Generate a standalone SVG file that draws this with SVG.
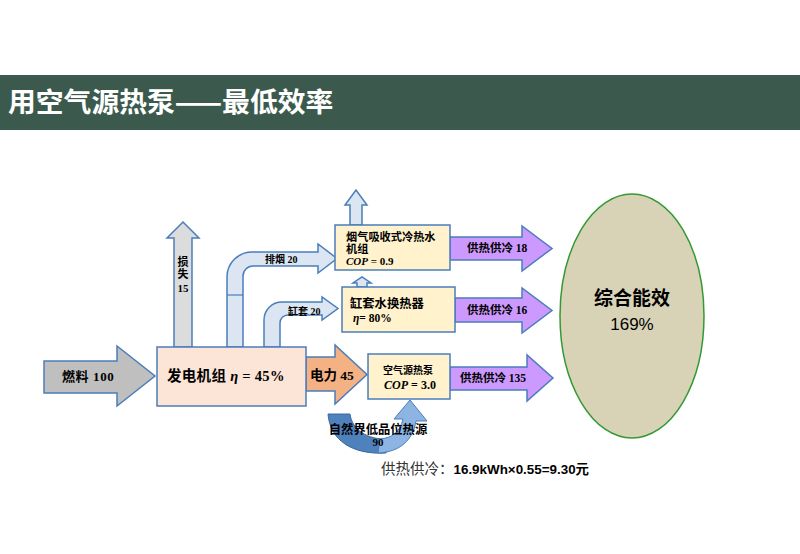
<svg xmlns="http://www.w3.org/2000/svg" width="800" height="554" viewBox="0 0 800 554">
<style>
.ar{stroke:#4A7EBB;stroke-width:1.5;stroke-linejoin:miter}
.gray{fill:#BFBFBF}
.lgray{fill:#DCDCDC}
.lb{fill:#DCE6F2}
.pu{fill:#CC99FF}
.or{fill:#F4B183}
.box{fill:#FFF2CC;stroke:#4A7EBB;stroke-width:1.5}
.t{font-family:"Liberation Serif","Noto Sans CJK SC",serif;font-weight:bold;fill:#000}
.s{font-family:"Liberation Sans","Noto Sans CJK SC",sans-serif}
</style>
<rect width="800" height="554" fill="#fff"/>
<rect x="0" y="75" width="800" height="55" fill="#3B5A4D"/>
<text x="8" y="112" font-family="'Noto Sans CJK SC',sans-serif" font-weight="bold" font-size="27.8" fill="#fff">用空气源热泵——最低效率</text>

<g id="connectors">
<path class="ar lgray" d="M174 347 L174 238 L167 238 L183 222 L199 238 L192 238 L192 347 Z"/>
<path class="ar lb" d="M227 347 L227 277 A25 25 0 0 1 252 252 L318 252 L318 244 L337 258.5 L318 273 L318 266 L253 266 A10 10 0 0 0 243 276 L243 347 Z"/>
<line x1="227" y1="295" x2="243" y2="295" stroke="#4A7EBB" stroke-width="1.2"/>
<path class="ar lb" d="M264 347 L264 320 A18 18 0 0 1 282 302 L322 302 L322 297 L338 308.5 L322 320 L322 315 L288 315 A8 8 0 0 0 280 323 L280 347 Z"/>
<path class="ar lb" d="M350 225 L350 205 L345 205 L356 190 L367 205 L362 205 L362 225 Z"/>
<path class="ar lb" d="M357 287 L357 283 L353 283 L362 277 L371 283 L367 283 L367 287 Z"/>
<path class="ar gray" d="M44 361 L117 361 L117 346 L155 376 L117 406 L117 393 L44 393 Z"/>
<path class="ar or" d="M306 357 L335 357 L335 345 L367 374.5 L335 404 L335 391 L306 391 Z"/>
<path class="ar pu" d="M450 237 L522 237 L522 226 L552 248.5 L522 271 L522 260 L450 260 Z"/>
<path class="ar pu" d="M455 298 L522 298 L522 288 L552 310.5 L522 333 L522 322 L455 322 Z"/>
<path class="ar pu" d="M450 367 L527 367 L527 355 L553 378 L527 401 L527 390 L450 390 Z"/>
<path d="M328 414 C330 440 352 455 386 453 L388 439 C368 440 352 430 350 414 Z" fill="#4F81BD" stroke="#3A6AA0" stroke-width="1"/>
<path d="M378 453 C400 452 413 440 416 421 L427 421 L410 400 L394 419 L403 419 C400 432 392 438 380 439 Z" fill="#8DB4E2" stroke="#4A7EBB" stroke-width="1"/>
</g>

<g id="loss">
<text class="t" x="183" y="266" font-size="11" text-anchor="middle">损</text>
<text class="t" x="183" y="278" font-size="11" text-anchor="middle">失</text>
<text class="t" x="183" y="292" font-size="11" text-anchor="middle">15</text>
</g>
<g id="flue"><text class="t" x="265" y="263" font-size="10">排烟 20</text></g>
<g id="jacket"><text class="t" x="288" y="315" font-size="10">缸套 20</text></g>
<g id="fuel"><text class="t" x="62" y="381" font-size="13" letter-spacing="0.6">燃料 100</text></g>

<g id="generator">
<rect x="157" y="347" width="149" height="59" fill="#FCE4D6" stroke="#4A7EBB" stroke-width="1.5"/>
<text class="t" x="167" y="381" font-size="14.5" letter-spacing="0.3">发电机组 <tspan font-style="italic">η</tspan> = 45%</text>
</g>
<g id="power"><text class="t" x="310" y="380" font-size="13.5">电力 45</text></g>

<g id="absorption">
<rect class="box" x="335" y="225" width="115" height="45"/>
<text class="t" x="346" y="241" font-size="11.2">烟气吸收式冷热水</text>
<text class="t" x="346" y="253" font-size="11.2">机组</text>
<text class="t" x="346" y="265" font-size="11"><tspan font-style="italic">COP</tspan> =  0.9</text>
</g>
<g id="exchanger">
<rect class="box" x="342" y="287" width="113" height="45"/>
<text class="t" x="350" y="308" font-size="12.3">缸套水换热器</text>
<text class="t" x="353" y="322" font-size="11.5"><tspan font-style="italic">η</tspan>=  80%</text>
</g>
<g id="heatpump">
<rect class="box" x="368" y="354" width="82" height="45"/>
<text class="t" x="408" y="374" font-size="10" text-anchor="middle">空气源热泵</text>
<text class="t" x="410" y="389" font-size="12" text-anchor="middle"><tspan font-style="italic">COP</tspan> = 3.0</text>
</g>
<g id="out18"><text class="t" x="467" y="252" font-size="11.5">供热供冷 18</text></g>
<g id="out16"><text class="t" x="467" y="314" font-size="11.5">供热供冷 16</text></g>
<g id="out135"><text class="t" x="460" y="382" font-size="11.5">供热供冷 135</text></g>
<g id="ambient">
<text class="t" x="378" y="434" font-size="12.3" text-anchor="middle">自然界低品位热源</text>
<text class="t" x="378" y="446" font-size="11" text-anchor="middle">90</text>
</g>

<g id="total">
<ellipse cx="632" cy="316" rx="72" ry="122" fill="#D8D3B7" stroke="#339933" stroke-width="1.5"/>
<text x="632" y="305" font-size="19" font-weight="bold" text-anchor="middle" font-family="'Noto Sans CJK SC',sans-serif">综合能效</text>
<text class="s" x="632" y="330" font-size="17" text-anchor="middle">169%</text>
</g>

<text x="381" y="474" font-size="14.5" fill="#333" font-family="'Liberation Serif','Noto Sans CJK SC',serif">供热供冷：<tspan font-family="'Liberation Sans','Noto Sans CJK SC',sans-serif" font-weight="bold" font-size="13.4" fill="#000">16.9kWh×0.55=9.30元</tspan></text>
</svg>
